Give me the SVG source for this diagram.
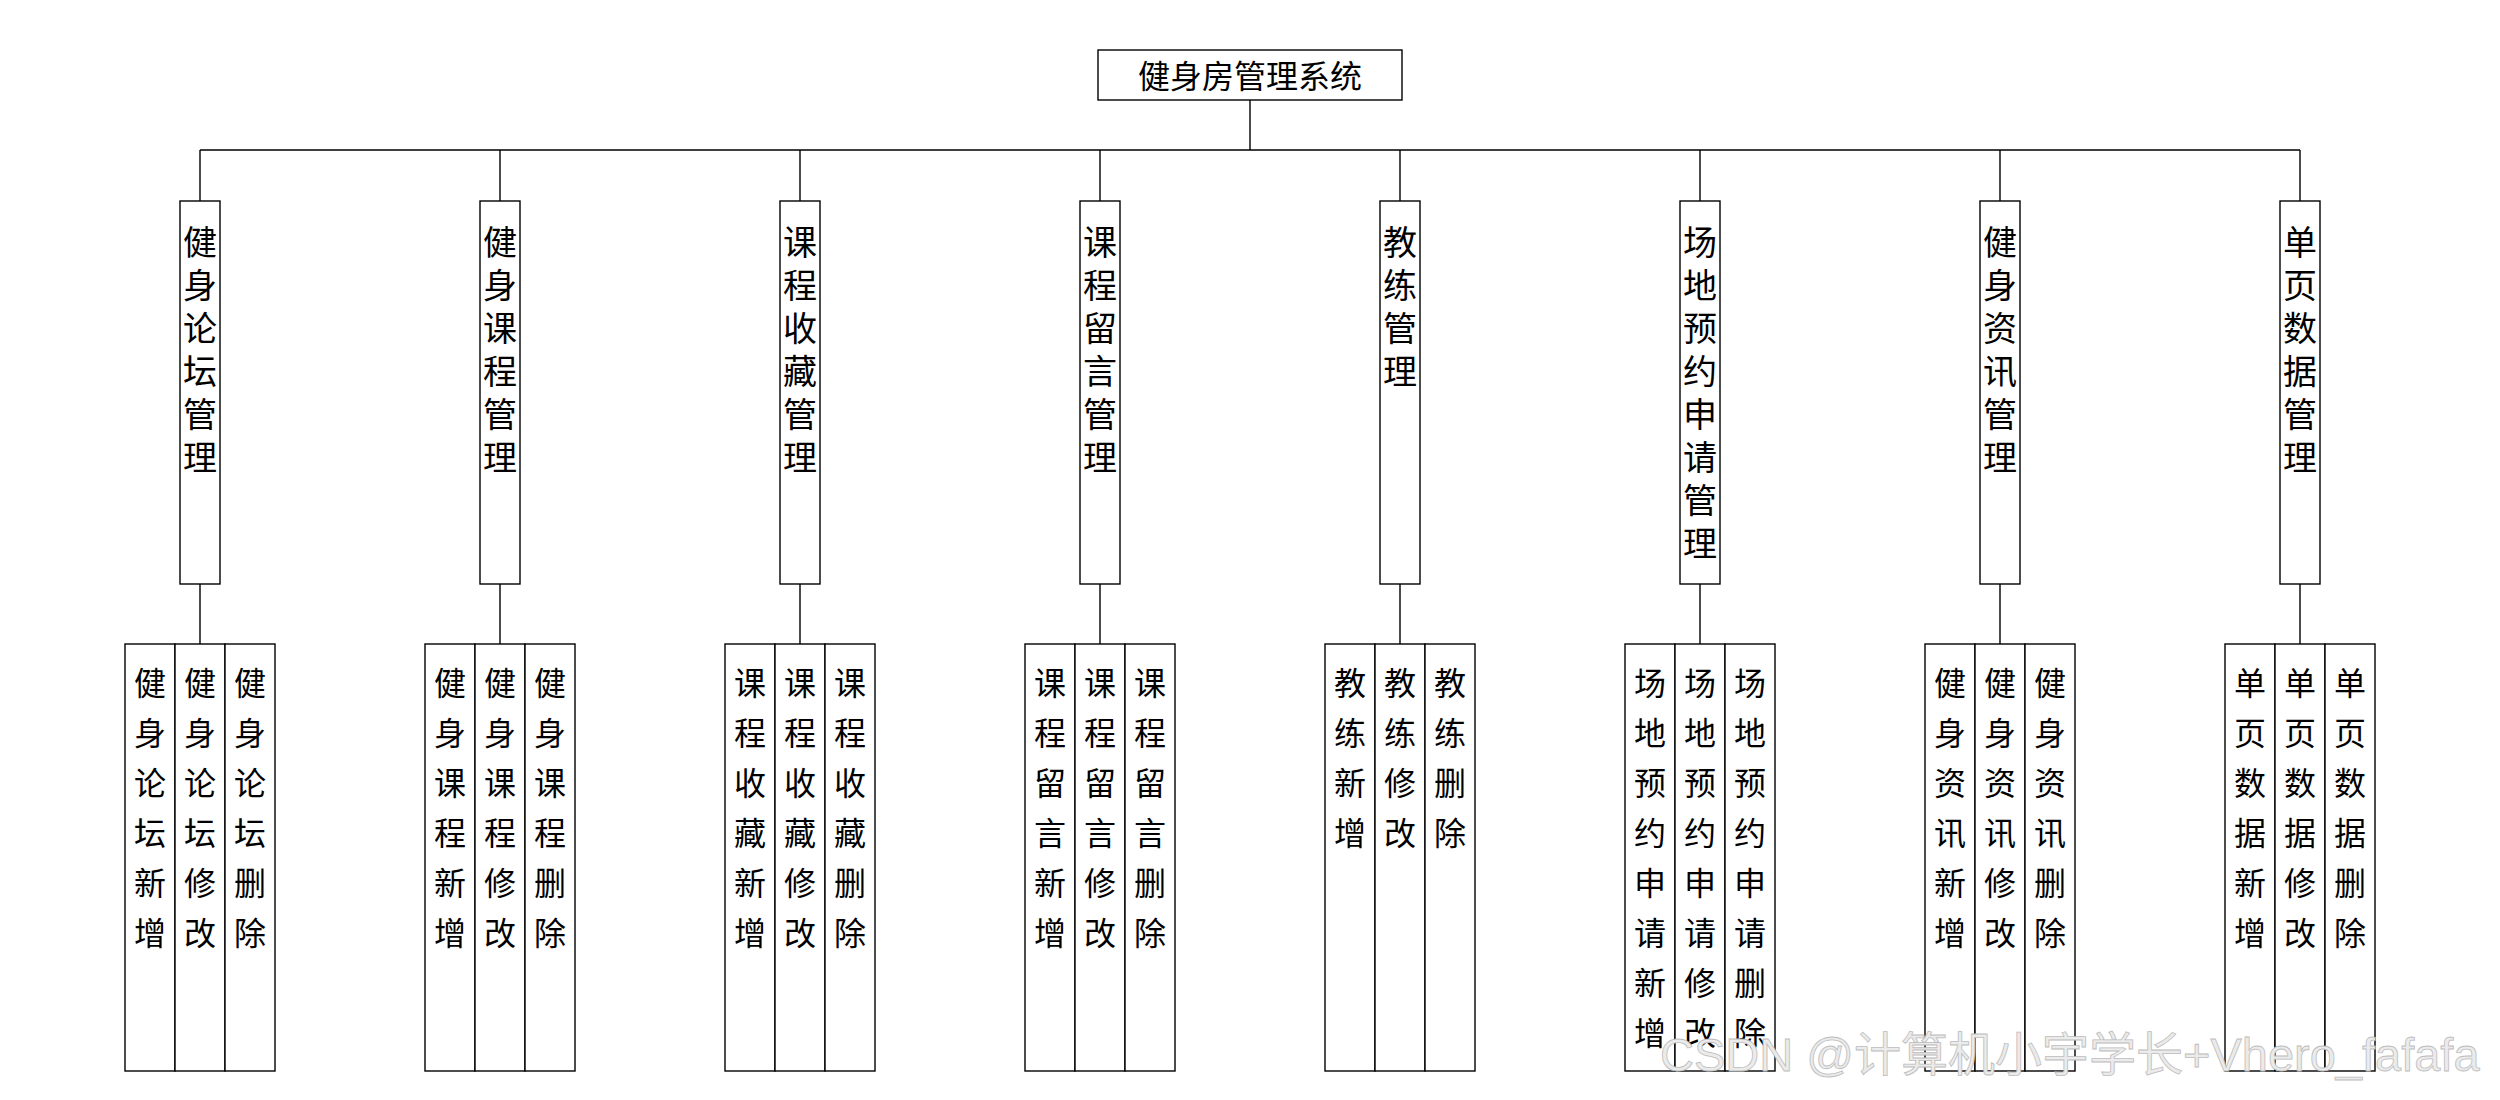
<svg xmlns="http://www.w3.org/2000/svg" width="2500" height="1100" viewBox="0 0 2500 1100">
<style>
.box{fill:#fff;stroke:#000;stroke-width:1.4}
.ln{fill:none;stroke:#000;stroke-width:1.4}
.t{font-family:"Noto Sans CJK SC","Liberation Sans",sans-serif;fill:#000;text-anchor:middle}
.root{font-size:32px}
.l1{font-size:34px}
.l2{font-size:32px}
.wm{font-family:"Liberation Sans","Noto Sans CJK SC",sans-serif;font-size:47px;fill:#ebebeb;stroke:#bdbdbd;stroke-width:0.8}
</style>
<rect width="2500" height="1100" fill="#fff"/>
<g id="connectors">
<path class="ln" d="M1250 100V150M200 150H2300M200 150V201M500 150V201M800 150V201M1100 150V201M1400 150V201M1700 150V201M2000 150V201M2300 150V201"/>
<path class="ln" d="M200 584V644M500 584V644M800 584V644M1100 584V644M1400 584V644M1700 584V644M2000 584V644M2300 584V644"/>
</g>
<g id="root">
<rect class="box" x="1098" y="50" width="304" height="50"/>
<text class="t root" x="1250" y="88">健身房管理系统</text>
</g>
<g id="n1">
<rect class="box" x="180" y="201" width="40" height="383"/>
<text class="t l1" x="200" y="255"><tspan x="200">健</tspan><tspan x="200" dy="43">身</tspan><tspan x="200" dy="43">论</tspan><tspan x="200" dy="43">坛</tspan><tspan x="200" dy="43">管</tspan><tspan x="200" dy="43">理</tspan></text>
</g>
<g id="n2">
<rect class="box" x="480" y="201" width="40" height="383"/>
<text class="t l1" x="500" y="255"><tspan x="500">健</tspan><tspan x="500" dy="43">身</tspan><tspan x="500" dy="43">课</tspan><tspan x="500" dy="43">程</tspan><tspan x="500" dy="43">管</tspan><tspan x="500" dy="43">理</tspan></text>
</g>
<g id="n3">
<rect class="box" x="780" y="201" width="40" height="383"/>
<text class="t l1" x="800" y="255"><tspan x="800">课</tspan><tspan x="800" dy="43">程</tspan><tspan x="800" dy="43">收</tspan><tspan x="800" dy="43">藏</tspan><tspan x="800" dy="43">管</tspan><tspan x="800" dy="43">理</tspan></text>
</g>
<g id="n4">
<rect class="box" x="1080" y="201" width="40" height="383"/>
<text class="t l1" x="1100" y="255"><tspan x="1100">课</tspan><tspan x="1100" dy="43">程</tspan><tspan x="1100" dy="43">留</tspan><tspan x="1100" dy="43">言</tspan><tspan x="1100" dy="43">管</tspan><tspan x="1100" dy="43">理</tspan></text>
</g>
<g id="n5">
<rect class="box" x="1380" y="201" width="40" height="383"/>
<text class="t l1" x="1400" y="255"><tspan x="1400">教</tspan><tspan x="1400" dy="43">练</tspan><tspan x="1400" dy="43">管</tspan><tspan x="1400" dy="43">理</tspan></text>
</g>
<g id="n6">
<rect class="box" x="1680" y="201" width="40" height="383"/>
<text class="t l1" x="1700" y="255"><tspan x="1700">场</tspan><tspan x="1700" dy="43">地</tspan><tspan x="1700" dy="43">预</tspan><tspan x="1700" dy="43">约</tspan><tspan x="1700" dy="43">申</tspan><tspan x="1700" dy="43">请</tspan><tspan x="1700" dy="43">管</tspan><tspan x="1700" dy="43">理</tspan></text>
</g>
<g id="n7">
<rect class="box" x="1980" y="201" width="40" height="383"/>
<text class="t l1" x="2000" y="255"><tspan x="2000">健</tspan><tspan x="2000" dy="43">身</tspan><tspan x="2000" dy="43">资</tspan><tspan x="2000" dy="43">讯</tspan><tspan x="2000" dy="43">管</tspan><tspan x="2000" dy="43">理</tspan></text>
</g>
<g id="n8">
<rect class="box" x="2280" y="201" width="40" height="383"/>
<text class="t l1" x="2300" y="255"><tspan x="2300">单</tspan><tspan x="2300" dy="43">页</tspan><tspan x="2300" dy="43">数</tspan><tspan x="2300" dy="43">据</tspan><tspan x="2300" dy="43">管</tspan><tspan x="2300" dy="43">理</tspan></text>
</g>
<g id="c1">
<rect class="box" x="125" y="644" width="50" height="427"/><rect class="box" x="175" y="644" width="50" height="427"/><rect class="box" x="225" y="644" width="50" height="427"/>
<text class="t l2" y="695"><tspan x="150">健</tspan><tspan x="150" dy="50">身</tspan><tspan x="150" dy="50">论</tspan><tspan x="150" dy="50">坛</tspan><tspan x="150" dy="50">新</tspan><tspan x="150" dy="50">增</tspan></text>
<text class="t l2" y="695"><tspan x="200">健</tspan><tspan x="200" dy="50">身</tspan><tspan x="200" dy="50">论</tspan><tspan x="200" dy="50">坛</tspan><tspan x="200" dy="50">修</tspan><tspan x="200" dy="50">改</tspan></text>
<text class="t l2" y="695"><tspan x="250">健</tspan><tspan x="250" dy="50">身</tspan><tspan x="250" dy="50">论</tspan><tspan x="250" dy="50">坛</tspan><tspan x="250" dy="50">删</tspan><tspan x="250" dy="50">除</tspan></text>
</g>
<g id="c2">
<rect class="box" x="425" y="644" width="50" height="427"/><rect class="box" x="475" y="644" width="50" height="427"/><rect class="box" x="525" y="644" width="50" height="427"/>
<text class="t l2" y="695"><tspan x="450">健</tspan><tspan x="450" dy="50">身</tspan><tspan x="450" dy="50">课</tspan><tspan x="450" dy="50">程</tspan><tspan x="450" dy="50">新</tspan><tspan x="450" dy="50">增</tspan></text>
<text class="t l2" y="695"><tspan x="500">健</tspan><tspan x="500" dy="50">身</tspan><tspan x="500" dy="50">课</tspan><tspan x="500" dy="50">程</tspan><tspan x="500" dy="50">修</tspan><tspan x="500" dy="50">改</tspan></text>
<text class="t l2" y="695"><tspan x="550">健</tspan><tspan x="550" dy="50">身</tspan><tspan x="550" dy="50">课</tspan><tspan x="550" dy="50">程</tspan><tspan x="550" dy="50">删</tspan><tspan x="550" dy="50">除</tspan></text>
</g>
<g id="c3">
<rect class="box" x="725" y="644" width="50" height="427"/><rect class="box" x="775" y="644" width="50" height="427"/><rect class="box" x="825" y="644" width="50" height="427"/>
<text class="t l2" y="695"><tspan x="750">课</tspan><tspan x="750" dy="50">程</tspan><tspan x="750" dy="50">收</tspan><tspan x="750" dy="50">藏</tspan><tspan x="750" dy="50">新</tspan><tspan x="750" dy="50">增</tspan></text>
<text class="t l2" y="695"><tspan x="800">课</tspan><tspan x="800" dy="50">程</tspan><tspan x="800" dy="50">收</tspan><tspan x="800" dy="50">藏</tspan><tspan x="800" dy="50">修</tspan><tspan x="800" dy="50">改</tspan></text>
<text class="t l2" y="695"><tspan x="850">课</tspan><tspan x="850" dy="50">程</tspan><tspan x="850" dy="50">收</tspan><tspan x="850" dy="50">藏</tspan><tspan x="850" dy="50">删</tspan><tspan x="850" dy="50">除</tspan></text>
</g>
<g id="c4">
<rect class="box" x="1025" y="644" width="50" height="427"/><rect class="box" x="1075" y="644" width="50" height="427"/><rect class="box" x="1125" y="644" width="50" height="427"/>
<text class="t l2" y="695"><tspan x="1050">课</tspan><tspan x="1050" dy="50">程</tspan><tspan x="1050" dy="50">留</tspan><tspan x="1050" dy="50">言</tspan><tspan x="1050" dy="50">新</tspan><tspan x="1050" dy="50">增</tspan></text>
<text class="t l2" y="695"><tspan x="1100">课</tspan><tspan x="1100" dy="50">程</tspan><tspan x="1100" dy="50">留</tspan><tspan x="1100" dy="50">言</tspan><tspan x="1100" dy="50">修</tspan><tspan x="1100" dy="50">改</tspan></text>
<text class="t l2" y="695"><tspan x="1150">课</tspan><tspan x="1150" dy="50">程</tspan><tspan x="1150" dy="50">留</tspan><tspan x="1150" dy="50">言</tspan><tspan x="1150" dy="50">删</tspan><tspan x="1150" dy="50">除</tspan></text>
</g>
<g id="c5">
<rect class="box" x="1325" y="644" width="50" height="427"/><rect class="box" x="1375" y="644" width="50" height="427"/><rect class="box" x="1425" y="644" width="50" height="427"/>
<text class="t l2" y="695"><tspan x="1350">教</tspan><tspan x="1350" dy="50">练</tspan><tspan x="1350" dy="50">新</tspan><tspan x="1350" dy="50">增</tspan></text>
<text class="t l2" y="695"><tspan x="1400">教</tspan><tspan x="1400" dy="50">练</tspan><tspan x="1400" dy="50">修</tspan><tspan x="1400" dy="50">改</tspan></text>
<text class="t l2" y="695"><tspan x="1450">教</tspan><tspan x="1450" dy="50">练</tspan><tspan x="1450" dy="50">删</tspan><tspan x="1450" dy="50">除</tspan></text>
</g>
<g id="c6">
<rect class="box" x="1625" y="644" width="50" height="427"/><rect class="box" x="1675" y="644" width="50" height="427"/><rect class="box" x="1725" y="644" width="50" height="427"/>
<text class="t l2" y="695"><tspan x="1650">场</tspan><tspan x="1650" dy="50">地</tspan><tspan x="1650" dy="50">预</tspan><tspan x="1650" dy="50">约</tspan><tspan x="1650" dy="50">申</tspan><tspan x="1650" dy="50">请</tspan><tspan x="1650" dy="50">新</tspan><tspan x="1650" dy="50">增</tspan></text>
<text class="t l2" y="695"><tspan x="1700">场</tspan><tspan x="1700" dy="50">地</tspan><tspan x="1700" dy="50">预</tspan><tspan x="1700" dy="50">约</tspan><tspan x="1700" dy="50">申</tspan><tspan x="1700" dy="50">请</tspan><tspan x="1700" dy="50">修</tspan><tspan x="1700" dy="50">改</tspan></text>
<text class="t l2" y="695"><tspan x="1750">场</tspan><tspan x="1750" dy="50">地</tspan><tspan x="1750" dy="50">预</tspan><tspan x="1750" dy="50">约</tspan><tspan x="1750" dy="50">申</tspan><tspan x="1750" dy="50">请</tspan><tspan x="1750" dy="50">删</tspan><tspan x="1750" dy="50">除</tspan></text>
</g>
<g id="c7">
<rect class="box" x="1925" y="644" width="50" height="427"/><rect class="box" x="1975" y="644" width="50" height="427"/><rect class="box" x="2025" y="644" width="50" height="427"/>
<text class="t l2" y="695"><tspan x="1950">健</tspan><tspan x="1950" dy="50">身</tspan><tspan x="1950" dy="50">资</tspan><tspan x="1950" dy="50">讯</tspan><tspan x="1950" dy="50">新</tspan><tspan x="1950" dy="50">增</tspan></text>
<text class="t l2" y="695"><tspan x="2000">健</tspan><tspan x="2000" dy="50">身</tspan><tspan x="2000" dy="50">资</tspan><tspan x="2000" dy="50">讯</tspan><tspan x="2000" dy="50">修</tspan><tspan x="2000" dy="50">改</tspan></text>
<text class="t l2" y="695"><tspan x="2050">健</tspan><tspan x="2050" dy="50">身</tspan><tspan x="2050" dy="50">资</tspan><tspan x="2050" dy="50">讯</tspan><tspan x="2050" dy="50">删</tspan><tspan x="2050" dy="50">除</tspan></text>
</g>
<g id="c8">
<rect class="box" x="2225" y="644" width="50" height="427"/><rect class="box" x="2275" y="644" width="50" height="427"/><rect class="box" x="2325" y="644" width="50" height="427"/>
<text class="t l2" y="695"><tspan x="2250">单</tspan><tspan x="2250" dy="50">页</tspan><tspan x="2250" dy="50">数</tspan><tspan x="2250" dy="50">据</tspan><tspan x="2250" dy="50">新</tspan><tspan x="2250" dy="50">增</tspan></text>
<text class="t l2" y="695"><tspan x="2300">单</tspan><tspan x="2300" dy="50">页</tspan><tspan x="2300" dy="50">数</tspan><tspan x="2300" dy="50">据</tspan><tspan x="2300" dy="50">修</tspan><tspan x="2300" dy="50">改</tspan></text>
<text class="t l2" y="695"><tspan x="2350">单</tspan><tspan x="2350" dy="50">页</tspan><tspan x="2350" dy="50">数</tspan><tspan x="2350" dy="50">据</tspan><tspan x="2350" dy="50">删</tspan><tspan x="2350" dy="50">除</tspan></text>
</g>
<g id="watermark">
<text class="wm" x="1660" y="1071">CSDN @计算机小宇学长+Vhero_fafafa</text>
</g>
</svg>
